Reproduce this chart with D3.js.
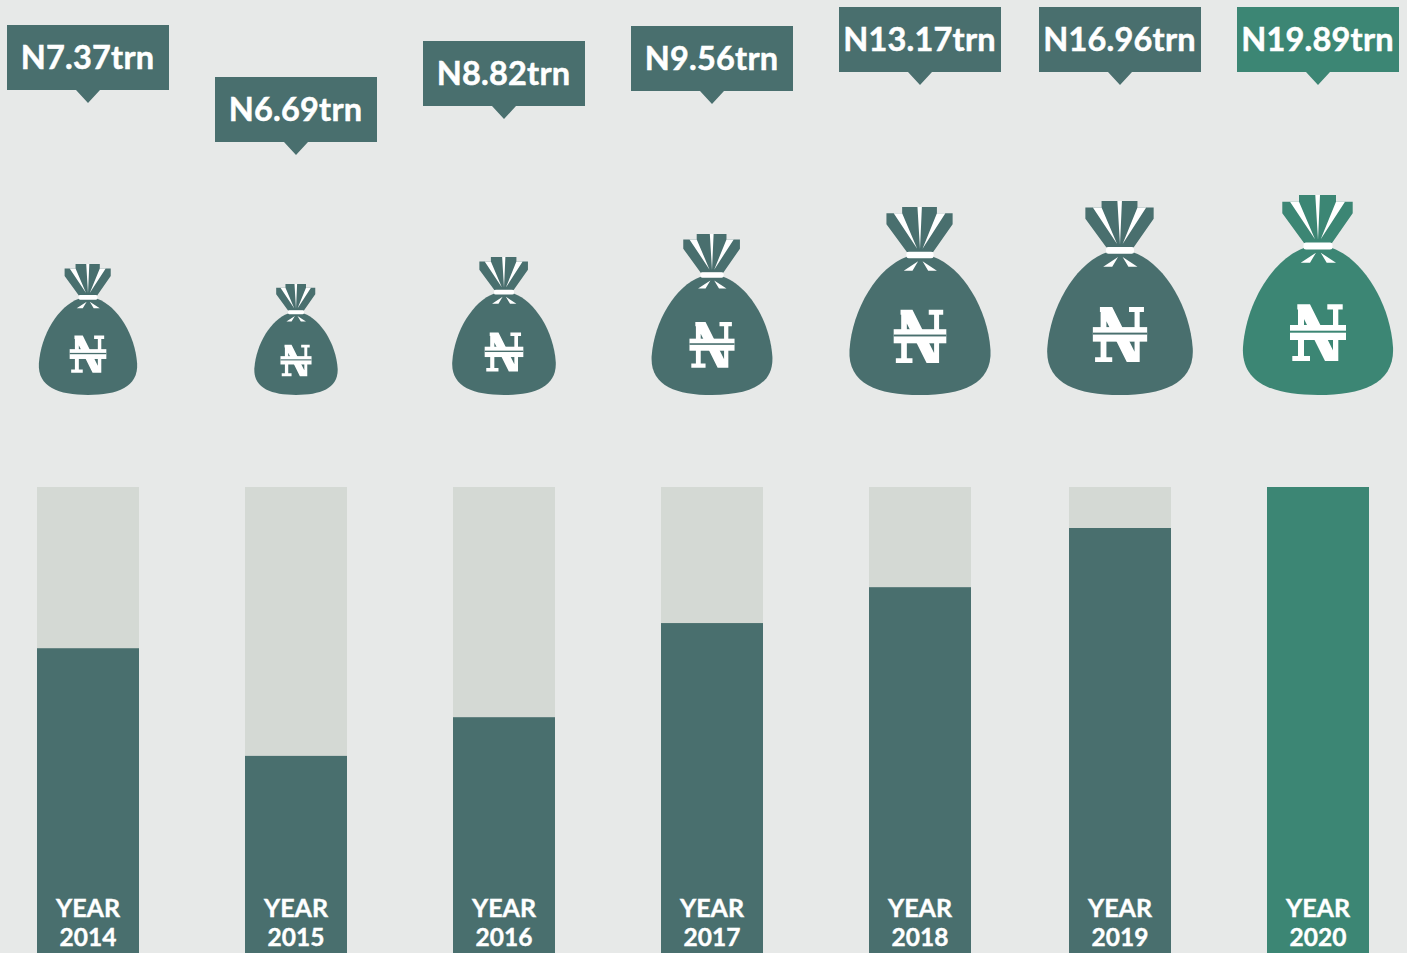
<!DOCTYPE html>
<html><head><meta charset="utf-8">
<style>html,body{margin:0;padding:0;background:#e7e9e8;overflow:hidden}svg{display:block}text{font-family:Lato,sans-serif;font-weight:700;fill:#fff;text-anchor:middle;stroke:#fff}</style>
<script src="https://cdn.jsdelivr.net/npm/d3@7"></script></head><body>
<script>
const years = ["2014","2015","2016","2017","2018","2019","2020"];
const amounts = ["N7.37trn","N6.69trn","N8.82trn","N9.56trn","N13.17trn","N16.96trn","N19.89trn"];
const barValues = [65.4,42.3,50.6,70.8,78.5,91.2,100];
const bagValues = [65.5,55.5,69,80.5,94,97,100];
const highlightYear = "2020";

// layout
const W=1407,H=953;
const centers=[88,296,504,712,920,1120,1318];
const calloutTops=[25,77,41,26,7,7,7];
const BAR_W=102,BAR_TOP=487,BAG_BASE=395;
const DARK="#496f6e",GREEN="#3c8674",TRACK="#d4d9d4";

const x=d3.scaleOrdinal().domain(years).range(centers);
const y=d3.scaleLinear().domain([0,100]).range([H,BAR_TOP]);
const bagScale=d3.scaleLinear().domain([0,100]).range([0,1]);
const top_=d3.scaleOrdinal().domain(years).range(calloutTops);
const colour=d=>d===highlightYear?GREEN:DARK;
const rows=years.map((year,i)=>({year,amount:amounts[i],bar:barValues[i],bag:bagValues[i]}));

const svg=d3.select("body").append("svg").attr("width",W).attr("height",H);
svg.append("rect").attr("width",W).attr("height",H).attr("fill","#e7e9e8");

// bars
svg.selectAll(".track").data(rows).join("rect").attr("class","track")
  .attr("x",d=>x(d.year)-BAR_W/2).attr("width",BAR_W).attr("y",y(100)).attr("height",y(0)-y(100)).attr("fill",TRACK);
svg.selectAll(".bar").data(rows).join("rect").attr("class","bar")
  .attr("x",d=>x(d.year)-BAR_W/2).attr("width",BAR_W).attr("y",d=>y(d.bar)).attr("height",d=>y(0)-y(d.bar)).attr("fill",d=>colour(d.year));

// year labels
const lab=svg.selectAll(".lab").data(rows).join("g").attr("class","lab").attr("transform",d=>`translate(${x(d.year)},0)`);
lab.append("text").attr("y",917).attr("font-size",25).attr("stroke-width",0.4).text("YEAR");
lab.append("text").attr("y",946).attr("font-size",24.5).attr("stroke-width",0.4).text(d=>d.year);

// callouts
const call=svg.selectAll(".call").data(rows).join("g").attr("class","call").attr("transform",d=>`translate(${x(d.year)},${top_(d.year)})`);
call.append("path").attr("fill",d=>colour(d.year)).attr("d","M-81,0H81V65H12L0,78L-12,65H-81Z");
call.append("text").attr("x",-0.5).attr("y",44).attr("font-size",32.5).attr("stroke-width",0.5).attr("letter-spacing",0.2).text(d=>d.amount);

// bags (unit shape: 200 tall at full size, origin at bottom centre)
const body="M-14,-147H14C45,-136 72,-92 75,-48C77,-12 45,0 0,0C-45,0 -77,-12 -75,-48C-72,-92 -45,-136 -14,-147Z";
const fan="M-35.7,-193.3H-19V-200H18V-193.3H34.7V-181.7L14,-152H-14L-35.7,-181.7Z";
const slits="M-28,-193.3H-19L-3,-155.7ZM-2.7,-200H2L0,-155ZM18,-193.3H27L2.7,-155.7Z";
const mouth="M-17.3,-132.3L-2,-142.3L-8,-132.3ZM18,-132.3L2.7,-142.3L8.7,-132.3Z";
const naira="M-20.7,-90.7H-8L20.3,-34H7L-14,-76V-39H-8V-34H-25.7V-39H-20V-85.5H-20.7ZM9.3,-90.7H24.7V-85.5H20.3V-34H15V-85.5H9.3Z";
const bag=svg.selectAll(".bag").data(rows).join("g").attr("class","bag")
  .attr("transform",d=>`translate(${x(d.year)},${BAG_BASE}) scale(${bagScale(d.bag)})`);
bag.append("path").attr("d",body).attr("fill",d=>colour(d.year));
bag.append("path").attr("d",fan).attr("fill",d=>colour(d.year));
bag.append("path").attr("d",slits).attr("fill","#fff");
bag.append("rect").attr("x",-14.5).attr("y",-152.5).attr("width",29).attr("height",7).attr("rx",2.5).attr("fill","#fff");
bag.append("path").attr("d",mouth).attr("fill","#fff");
bag.append("path").attr("d",naira).attr("fill","#fff");
bag.append("rect").attr("x",-28).attr("y",-70).attr("width",56).attr("height",15).attr("fill","#fff");
bag.append("rect").attr("x",-28).attr("y",-64.3).attr("width",56).attr("height",2).attr("fill",d=>colour(d.year));
</script></body></html>
